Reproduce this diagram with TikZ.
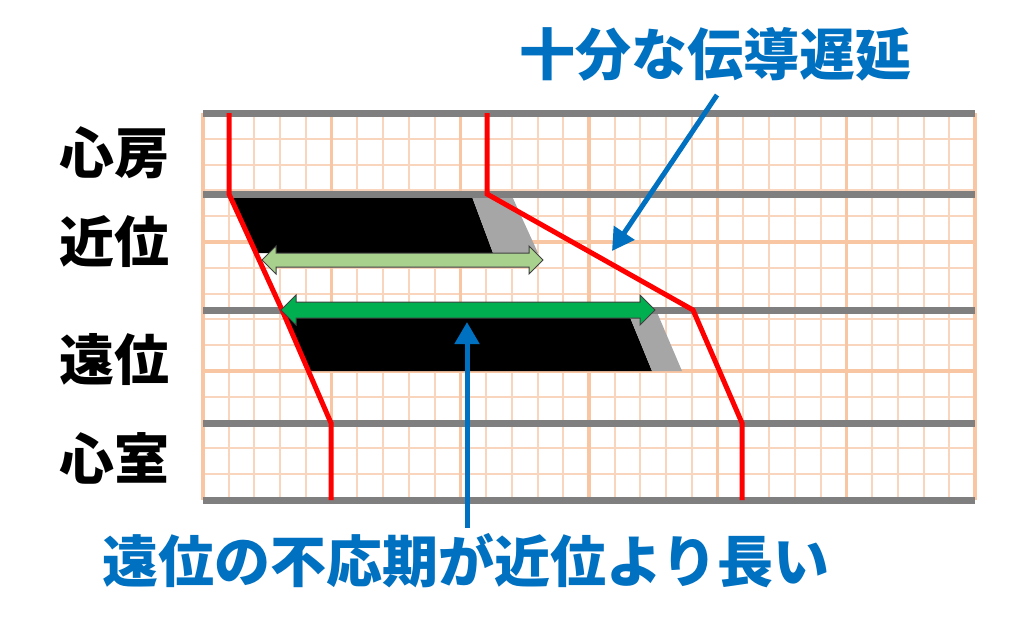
\documentclass[tikz,border=0pt]{standalone}
\usepackage{fontspec}
\newfontfamily\cjk{Noto Sans CJK JP}
\usetikzlibrary{arrows.meta}
\definecolor{gridthin}{HTML}{FAD5BD}
\definecolor{gridthick}{HTML}{F9C6A4}
\definecolor{bargray}{HTML}{7F7F7F}
\definecolor{shade}{HTML}{A6A6A6}
\definecolor{lightgreen}{HTML}{A9D18E}
\definecolor{darkgreen}{HTML}{00B050}
\definecolor{blueann}{HTML}{0070C0}
\tikzset{
  thinline/.style={draw=gridthin, line width=2pt},
  thickline/.style={draw=gridthick, line width=3.5pt},
  bar/.style={draw=bargray, line width=7pt},
  redpath/.style={draw=red, line width=5pt, line join=miter},
  refr/.style={fill=black},
  relative/.style={fill=shade},
  dblarrow/.style={draw=black!75, line width=1pt, line join=miter},
  label/.style={font=\cjk\bfseries\fontsize{55}{60}\selectfont, text=black, inner sep=0pt},
  bluetext/.style={font=\cjk\bfseries\fontsize{56}{60}\selectfont, text=blueann, inner sep=0pt},
  bluearrow/.style={draw=blueann, line width=5pt, -{Triangle[length=22pt,width=24pt]}}
}
\begin{document}
\begin{tikzpicture}[x=1pt,y=-1pt]
\useasboundingbox[fill=white] (0,0) rectangle (1024,630);
% grid
\foreach \i in {0,...,30} { \draw[thinline] ({203+\i*25.733},113) -- ++(0,387); }
\foreach \j in {0,...,15} { \draw[thinline] (203,{113+\j*25.8}) -- ++(772,0); }
\foreach \i in {0,5,...,30} { \draw[thickline] ({203+\i*25.733},113) -- ++(0,387); }
\foreach \j in {0,5,...,15} { \draw[thickline] (203,{113+\j*25.8}) -- ++(772,0); }
% refractory bands
\fill[refr] (229,194) -- (471,194) -- (493,253) -- (256,253) -- cycle;
\fill[relative] (471,194) -- (511,194) -- (538,253) -- (493,253) -- cycle;
\fill[refr] (282,310) -- (627,310) -- (652,371) -- (308,371) -- cycle;
\fill[relative] (627,310) -- (656,310) -- (682,371) -- (652,371) -- cycle;
% gray bars
\foreach \y in {113,194,310,423,500} { \draw[bar] (203,\y) -- (975,\y); }
% red conduction lines
\coordinate (a1) at (229,113); \coordinate (p1) at (229,194);
\coordinate (d1) at (282,310); \coordinate (v1) at (331,423); \coordinate (e1) at (331,500);
\coordinate (a2) at (487,113); \coordinate (p2) at (487,194);
\coordinate (d2) at (693,310); \coordinate (v2) at (742,423); \coordinate (e2) at (742,500);
\draw[redpath] (a1) -- (p1) -- (d1) -- (v1) -- (e1);
\draw[redpath] (a2) -- (p2) -- (d2) -- (v2) -- (e2);
% green double arrows
\draw[dblarrow, fill=lightgreen] (262,260) -- (276,246) -- (276,253) -- (529,253) -- (529,246) -- (543,260) -- (529,274) -- (529,267) -- (276,267) -- (276,274) -- cycle;
\draw[dblarrow, fill=darkgreen] (281,310) -- (296,295) -- (296,302) -- (640,302) -- (640,295) -- (655,310) -- (640,325) -- (640,318) -- (296,318) -- (296,325) -- cycle;
% labels
\node[label] (la) at (114,153) {心房};
\node[label] (lp) at (114,242) {近位};
\node[label] (ld) at (114,360) {遠位};
\node[label] (lv) at (114,458) {心室};
\node[bluetext] (title) at (715,54) {十分な伝導遅延};
\node[bluetext] (bottom) at (466,561) {遠位の不応期が近位より長い};
% blue arrows
\coordinate (t1) at (717,95); \coordinate (h1) at (612,251);
\coordinate (t2) at (467,528); \coordinate (h2) at (467,322);
\draw[bluearrow] (t1) -- (h1);
\draw[bluearrow] (t2) -- (h2);
\end{tikzpicture}
\end{document}
